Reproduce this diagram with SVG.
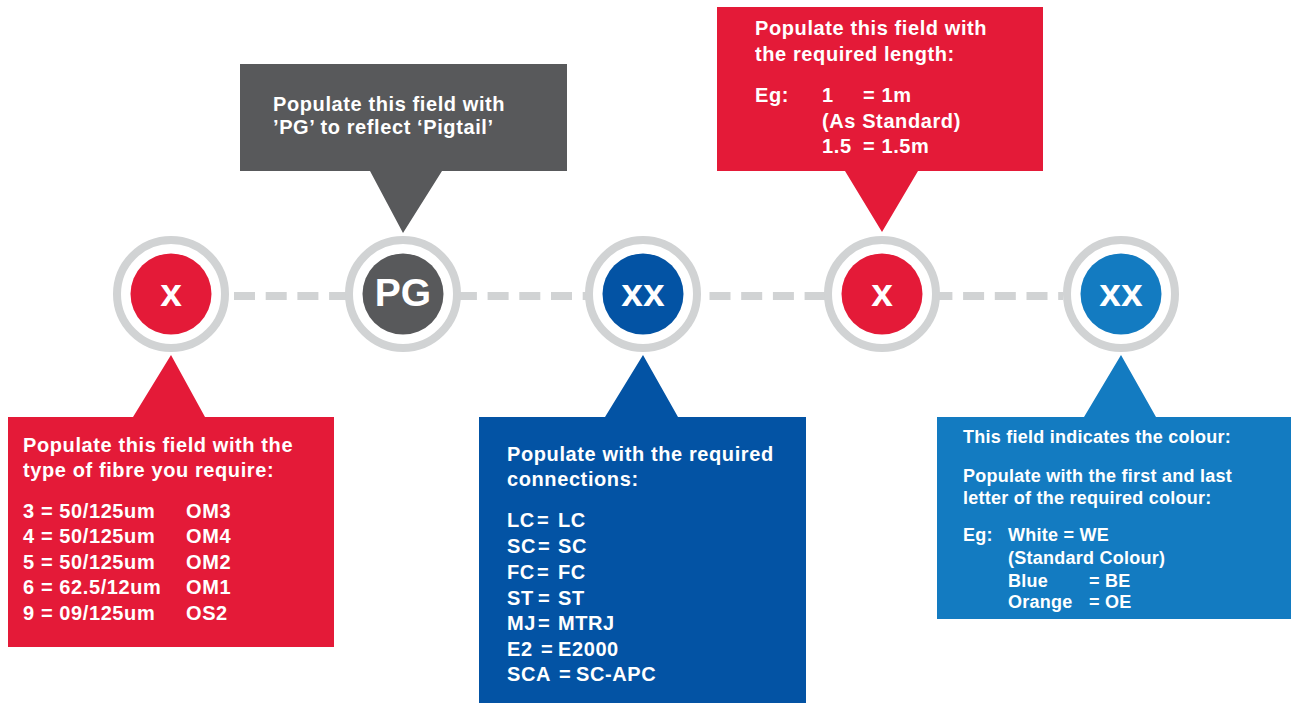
<svg xmlns="http://www.w3.org/2000/svg" width="1291" height="704" viewBox="0 0 1291 704">
<style>
.t{font-family:"Liberation Sans",Arial,sans-serif;font-weight:bold;fill:#fff;font-size:20px;letter-spacing:0.6px}
.s{font-size:18px;letter-spacing:0.25px}
.lbl{font-family:"Liberation Sans",Arial,sans-serif;font-weight:bold;fill:#fff;font-size:39px;text-anchor:middle}
.ring{fill:#fff;stroke:#d1d3d4;stroke-width:8}
.red{fill:#e41a38}.gray{fill:#58595b}.dblue{fill:#0353a4}.lblue{fill:#137bc1}
</style>
<g id="connectors">
<line x1="234" y1="296" x2="1063" y2="296" stroke="#d1d3d4" stroke-width="8" stroke-dasharray="21 10.7"/>
</g>
<g id="node-1">
<circle class="ring" cx="171" cy="294" r="54"/>
<circle class="red" cx="171" cy="294" r="40.5"/>
<text class="lbl" x="171" y="306">x</text>
</g>
<g id="node-2">
<circle class="ring" cx="403" cy="294" r="54"/>
<circle class="gray" cx="403" cy="294" r="40.5"/>
<text class="lbl" x="403" y="306">PG</text>
</g>
<g id="node-3">
<circle class="ring" cx="643" cy="294" r="54"/>
<circle class="dblue" cx="643" cy="294" r="40.5"/>
<text class="lbl" x="643" y="306">xx</text>
</g>
<g id="node-4">
<circle class="ring" cx="882" cy="294" r="54"/>
<circle class="red" cx="882" cy="294" r="40.5"/>
<text class="lbl" x="882" y="306">x</text>
</g>
<g id="node-5">
<circle class="ring" cx="1121" cy="294" r="54"/>
<circle class="lblue" cx="1121" cy="294" r="40.5"/>
<text class="lbl" x="1121" y="306">xx</text>
</g>
<g id="callout-fibre">
<path class="red" d="M8,417 H133 L171,355 L205,417 H334 V647 H8 Z"/>
<text class="t" x="23" y="452">Populate this field with the</text>
<text class="t" x="23" y="477">type of fibre you require:</text>
<text class="t" y="518"><tspan x="23">3 = 50/125um</tspan><tspan x="186">OM3</tspan></text>
<text class="t" y="543"><tspan x="23">4 = 50/125um</tspan><tspan x="186">OM4</tspan></text>
<text class="t" y="569"><tspan x="23">5 = 50/125um</tspan><tspan x="186">OM2</tspan></text>
<text class="t" y="594"><tspan x="23">6 = 62.5/12um</tspan><tspan x="186">OM1</tspan></text>
<text class="t" y="620"><tspan x="23">9 = 09/125um</tspan><tspan x="186">OS2</tspan></text>
</g>
<g id="callout-pigtail">
<path class="gray" d="M240,64 H567 V171 H442 L403,233 L370,171 H240 Z"/>
<text class="t" x="273" y="111">Populate this field with</text>
<text class="t" x="273" y="134">’PG’ to reflect ‘Pigtail’</text>
</g>
<g id="callout-connections">
<path class="dblue" d="M479,417 H605 L643,355 L678,417 H806 V703 H479 Z"/>
<text class="t" x="507" y="461">Populate with the required</text>
<text class="t" x="507" y="486">connections:</text>
<text class="t" y="527"><tspan x="507">LC</tspan><tspan x="537">=</tspan><tspan x="558">LC</tspan></text>
<text class="t" y="553"><tspan x="507">SC</tspan><tspan x="538">=</tspan><tspan x="558">SC</tspan></text>
<text class="t" y="579"><tspan x="507">FC</tspan><tspan x="537">=</tspan><tspan x="558">FC</tspan></text>
<text class="t" y="605"><tspan x="507">ST</tspan><tspan x="538">=</tspan><tspan x="558">ST</tspan></text>
<text class="t" y="630"><tspan x="507">MJ</tspan><tspan x="538">=</tspan><tspan x="558">MTRJ</tspan></text>
<text class="t" y="656"><tspan x="507">E2</tspan><tspan x="541">=</tspan><tspan x="558">E2000</tspan></text>
<text class="t" y="681"><tspan x="507">SCA</tspan><tspan x="559">=</tspan><tspan x="576">SC-APC</tspan></text>
</g>
<g id="callout-length">
<path class="red" d="M717,7 H1043 V171 H918 L882,232 L845,171 H717 Z"/>
<text class="t" x="755" y="35">Populate this field with</text>
<text class="t" x="755" y="61">the required length:</text>
<text class="t" y="102"><tspan x="755">Eg:</tspan><tspan x="822">1</tspan><tspan x="863">= 1m</tspan></text>
<text class="t" x="822" y="128">(As Standard)</text>
<text class="t" y="153"><tspan x="822">1.5</tspan><tspan x="863">= 1.5m</tspan></text>
</g>
<g id="callout-colour">
<path class="lblue" d="M937,417 H1084 L1121,355 L1156,417 H1291 V619 H937 Z"/>
<text class="t s" x="963" y="443">This field indicates the colour:</text>
<text class="t s" x="963" y="482">Populate with the first and last</text>
<text class="t s" x="963" y="504">letter of the required colour:</text>
<text class="t s" y="541"><tspan x="963">Eg:</tspan><tspan x="1008">White = WE</tspan></text>
<text class="t s" x="1008" y="564">(Standard Colour)</text>
<text class="t s" y="587"><tspan x="1008">Blue</tspan><tspan x="1089">= BE</tspan></text>
<text class="t s" y="608"><tspan x="1008">Orange</tspan><tspan x="1089">= OE</tspan></text>
</g>
</svg>
